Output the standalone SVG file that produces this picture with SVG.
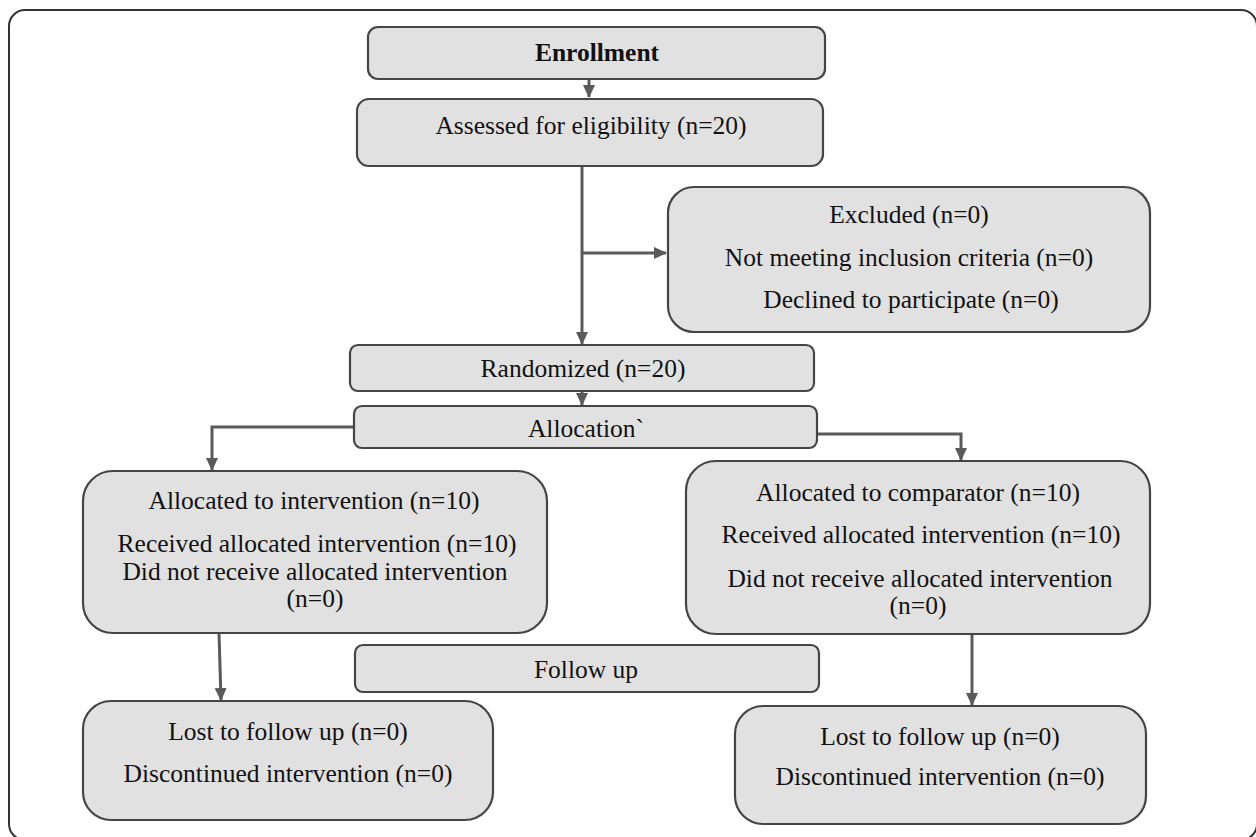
<svg xmlns="http://www.w3.org/2000/svg" width="1256" height="837" viewBox="0 0 1256 837">
<defs>
<style>
.box{fill:#e1e1e1;stroke:#454545;stroke-width:2.2}
.frame{fill:#ffffff;stroke:#333333;stroke-width:2}
.t{font-family:'Liberation Serif','Tinos','Times New Roman','DejaVu Serif',serif;font-size:25.5px;fill:#111111;text-anchor:middle}
.b{font-weight:bold}
.c{fill:none;stroke:#5a5a5a;stroke-width:3}
</style>
<marker id="ah" markerUnits="userSpaceOnUse" markerWidth="14" markerHeight="14" viewBox="0 0 14 14" refX="12" refY="7" orient="auto">
<path d="M0,1 L13,7 L0,13 Z" fill="#5a5a5a"/>
</marker>
</defs>
<rect class="frame" x="9" y="10" width="1248" height="830" rx="16"/>
<g id="connectors">
<line class="c" x1="589" y1="79" x2="589" y2="97" marker-end="url(#ah)"/>
<line class="c" x1="582" y1="166" x2="582" y2="344" marker-end="url(#ah)"/>
<line class="c" x1="582" y1="253" x2="666" y2="253" marker-end="url(#ah)"/>
<line class="c" x1="582" y1="391" x2="582" y2="405" marker-end="url(#ah)"/>
<polyline class="c" points="354,427 212,427 212,470" marker-end="url(#ah)"/>
<polyline class="c" points="817,434 961,434 961,460" marker-end="url(#ah)"/>
<line class="c" x1="219" y1="633" x2="221" y2="700" marker-end="url(#ah)"/>
<line class="c" x1="972" y1="634" x2="972" y2="705" marker-end="url(#ah)"/>
</g>
<g id="enrollment">
<rect class="box" x="368" y="27" width="457" height="52" rx="10"/>
<text class="t b" x="597" y="61" font-family="Liberation Serif, serif">Enrollment</text>
</g>
<g id="assessed">
<rect class="box" x="357" y="99" width="466" height="67" rx="12"/>
<text class="t" x="591" y="134">Assessed for eligibility (n=20)</text>
</g>
<g id="excluded">
<rect class="box" x="668" y="187" width="482" height="145" rx="26"/>
<text class="t" x="909" y="223">Excluded (n=0)</text>
<text class="t" x="909" y="266">Not meeting inclusion criteria (n=0)</text>
<text class="t" x="911" y="308">Declined to participate (n=0)</text>
</g>
<g id="randomized">
<rect class="box" x="350" y="345" width="464" height="46" rx="8"/>
<text class="t" x="583" y="377">Randomized (n=20)</text>
</g>
<g id="allocation">
<rect class="box" x="354" y="406" width="463" height="42" rx="8"/>
<text class="t" x="586" y="437">Allocation`</text>
</g>
<g id="alloc-intervention">
<rect class="box" x="83" y="471" width="464" height="162" rx="30"/>
<text class="t" x="314" y="509">Allocated to intervention (n=10)</text>
<text class="t" x="317" y="552">Received allocated intervention (n=10)</text>
<text class="t" x="315" y="580">Did not receive allocated intervention</text>
<text class="t" x="315" y="607">(n=0)</text>
</g>
<g id="alloc-comparator">
<rect class="box" x="686" y="461" width="464" height="173" rx="30"/>
<text class="t" x="918" y="501">Allocated to comparator (n=10)</text>
<text class="t" x="921" y="543">Received allocated intervention (n=10)</text>
<text class="t" x="920" y="587">Did not receive allocated intervention</text>
<text class="t" x="918" y="614">(n=0)</text>
</g>
<g id="follow-up">
<rect class="box" x="355" y="645" width="464" height="47" rx="8"/>
<text class="t" x="586" y="678">Follow up</text>
</g>
<g id="lost-left">
<rect class="box" x="83" y="701" width="410" height="119" rx="28"/>
<text class="t" x="288" y="740">Lost to follow up (n=0)</text>
<text class="t" x="288" y="782">Discontinued intervention (n=0)</text>
</g>
<g id="lost-right">
<rect class="box" x="735" y="706" width="411" height="118" rx="28"/>
<text class="t" x="940" y="745">Lost to follow up (n=0)</text>
<text class="t" x="940" y="785">Discontinued intervention (n=0)</text>
</g>
</svg>
